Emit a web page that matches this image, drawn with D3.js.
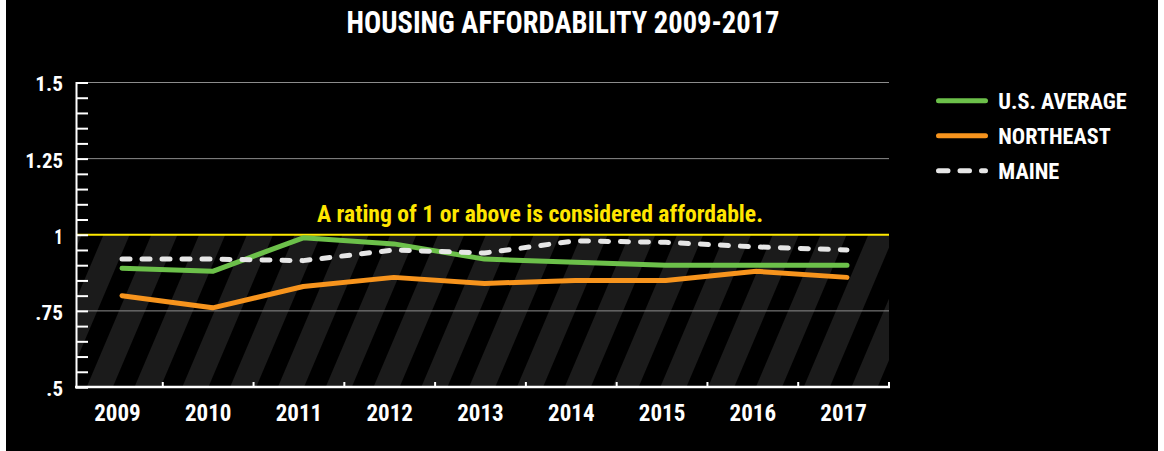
<!DOCTYPE html>
<html>
<head>
<meta charset="utf-8">
<script src="https://cdn.jsdelivr.net/npm/d3@7/dist/d3.min.js"></script>
<style>
  html, body { margin: 0; padding: 0; background: #ffffff; }
  svg { display: block; }
  text { font-family: "Liberation Sans Narrow", "Roboto Condensed", "DejaVu Sans Condensed", "Liberation Sans", Arial, sans-serif; font-weight: bold; }
</style>
</head>
<body>
<svg id="chart" width="1164" height="451"></svg>
<script>
// ---- data ----
const years = ["2009","2010","2011","2012","2013","2014","2015","2016","2017"];
const usAverage = [0.89, 0.88, 0.99, 0.97, 0.92, 0.91, 0.90, 0.90, 0.90];
const northeast = [0.80, 0.76, 0.83, 0.86, 0.84, 0.85, 0.85, 0.88, 0.86];
const maine     = [0.92, 0.92, 0.915, 0.95, 0.94, 0.98, 0.975, 0.96, 0.95];
const yTickValues = [0.5, 0.75, 1, 1.25, 1.5];
const yTickLabels = [".5", ".75", "1", "1.25", "1.5"];
const seriesNames = ["U.S. AVERAGE", "NORTHEAST", "MAINE"];
const titleText = "HOUSING AFFORDABILITY 2009-2017";
const noteText = "A rating of 1 or above is considered affordable.";
const threshold = 1;

// ---- layout ----
const svg = d3.select("#chart");
const W = 1164, H = 451;
const plotLeft = 76, plotRight = 889, plotTop = 82.5, plotBottom = 387;

svg.append("rect").attr("x", 0).attr("y", 0).attr("width", W).attr("height", H).attr("fill", "#ffffff");
svg.append("rect").attr("x", 6).attr("y", 0).attr("width", 1152).attr("height", H).attr("fill", "#000000");

const y = d3.scaleLinear().domain([0.5, 1.5]).range([plotBottom, plotTop]);
const xBand = d3.scaleBand().domain(years).range([72, plotRight]).padding(0);
const xLine = d3.scalePoint().domain(years).range([122, 847]);

// stripes pattern
const defs = svg.append("defs");
const pat = defs.append("pattern")
  .attr("id", "stripes")
  .attr("patternUnits", "userSpaceOnUse")
  .attr("width", 44).attr("height", 44)
  .attr("patternTransform", "translate(12,0) rotate(23)");
pat.append("rect").attr("x", 0).attr("y", 0).attr("width", 44).attr("height", 44).attr("fill", "#000");
pat.append("rect").attr("x", 0).attr("y", 0).attr("width", 24).attr("height", 44).attr("fill", "#1b1b1b");

svg.append("rect")
  .attr("x", plotLeft + 1).attr("y", y(threshold))
  .attr("width", plotRight - plotLeft - 1).attr("height", plotBottom - y(threshold))
  .attr("fill", "url(#stripes)");

// gridlines (major)
svg.append("g").selectAll("line")
  .data(yTickValues.filter(v => v !== 0.5 && v !== threshold))
  .join("line")
  .attr("x1", plotLeft).attr("x2", plotRight)
  .attr("y1", d => y(d)).attr("y2", d => y(d))
  .attr("stroke", "#8c8c8c").attr("stroke-width", 1);

// threshold line
svg.append("line")
  .attr("x1", plotLeft).attr("x2", plotRight)
  .attr("y1", y(threshold)).attr("y2", y(threshold))
  .attr("stroke", "#ffea00").attr("stroke-width", 2.2);

// annotation
svg.append("text")
  .attr("x", 540).attr("y", 221.5)
  .attr("text-anchor", "middle")
  .attr("fill", "#ffe600")
  .attr("font-size", 24)
  .attr("textLength", 446).attr("lengthAdjust", "spacingAndGlyphs")
  .text(noteText);

// y axis: inward ticks every 0.05
const minorTicks = d3.range(0.5, 1.5001, 0.05).map(v => +v.toFixed(2));
const yAxisInner = d3.axisRight(y).tickValues(minorTicks).tickSize(12).tickFormat("");
const gy = svg.append("g").attr("transform", `translate(${plotLeft},0)`).call(yAxisInner);
gy.select(".domain").attr("stroke", "#fff").attr("stroke-width", 2);
gy.selectAll(".tick line").attr("stroke", "#fff").attr("stroke-width", 2);

// y labels
const yAxisLabels = d3.axisLeft(y).tickValues(yTickValues).tickSize(0).tickPadding(13)
  .tickFormat((d, i) => yTickLabels[i]);
const gyl = svg.append("g").attr("transform", `translate(${plotLeft},0)`).call(yAxisLabels);
gyl.select(".domain").remove();
const yLabelWidths = {".5": 16.7, ".75": 27.7, "1": 8.7, "1.25": 37.7, "1.5": 27.7};
gyl.selectAll(".tick text")
  .attr("fill", "#fff").attr("font-size", 21)
  .attr("font-family", null).attr("dy", "0.4em")
  .attr("textLength", (d, i) => yLabelWidths[yTickLabels[i]])
  .attr("lengthAdjust", "spacingAndGlyphs");

// x axis
svg.append("line")
  .attr("x1", plotLeft - 1).attr("x2", plotRight + 1)
  .attr("y1", plotBottom).attr("y2", plotBottom)
  .attr("stroke", "#fff").attr("stroke-width", 2.5);
svg.append("g").selectAll("line")
  .data(years)
  .join("line")
  .attr("x1", d => xBand(d) + xBand.bandwidth()).attr("x2", d => xBand(d) + xBand.bandwidth())
  .attr("y1", plotBottom).attr("y2", plotBottom - 5)
  .attr("stroke", "#fff").attr("stroke-width", 2);

const xAxis = d3.axisBottom(xBand).tickSize(0).tickPadding(18);
const gx = svg.append("g").attr("transform", `translate(0,${plotBottom})`).call(xAxis);
gx.select(".domain").remove();
gx.selectAll(".tick text")
  .attr("fill", "#fff").attr("font-size", 23).attr("font-family", null)
  .attr("dy", "0.68em")
  .attr("textLength", 46.5).attr("lengthAdjust", "spacingAndGlyphs");

// series lines
const lineGen = d3.line().x((d, i) => xLine(years[i])).y(d => y(d));
const seriesData = [usAverage, northeast, maine];
const seriesColors = ["#6cc04a", "#f7941d", "#e6e6e6"];
const seriesDash = [null, null, "8,12"];

svg.append("g").selectAll("path")
  .data(seriesData)
  .join("path")
  .attr("d", d => lineGen(d))
  .attr("fill", "none")
  .attr("stroke", (d, i) => seriesColors[i])
  .attr("stroke-width", 5)
  .attr("stroke-linecap", "round")
  .attr("stroke-linejoin", "round")
  .attr("stroke-dasharray", (d, i) => seriesDash[i]);

// title
svg.append("text")
  .attr("x", 563).attr("y", 33.3)
  .attr("text-anchor", "middle")
  .attr("fill", "#fff").attr("font-size", 31)
  .attr("textLength", 433).attr("lengthAdjust", "spacingAndGlyphs")
  .text(titleText);

// legend
const legendY = [100.7, 135.7, 170.7];
const legendWidths = [128.4, 112.4, 61];
const lg = svg.append("g");
const items = lg.selectAll("g").data(seriesNames).join("g")
  .attr("transform", (d, i) => `translate(0,${legendY[i]})`);
items.append("line")
  .attr("x1", 938.5).attr("x2", 985.5).attr("y1", 0).attr("y2", 0)
  .attr("stroke", (d, i) => seriesColors[i])
  .attr("stroke-width", 5)
  .attr("stroke-linecap", "round")
  .attr("stroke-dasharray", (d, i) => seriesDash[i] ? "9.5,12" : null);
items.append("text")
  .attr("x", 998.3).attr("y", 8.7)
  .attr("fill", "#fff").attr("font-size", 22)
  .attr("textLength", (d, i) => legendWidths[i]).attr("lengthAdjust", "spacingAndGlyphs")
  .text(d => d);
</script>
</body>
</html>
